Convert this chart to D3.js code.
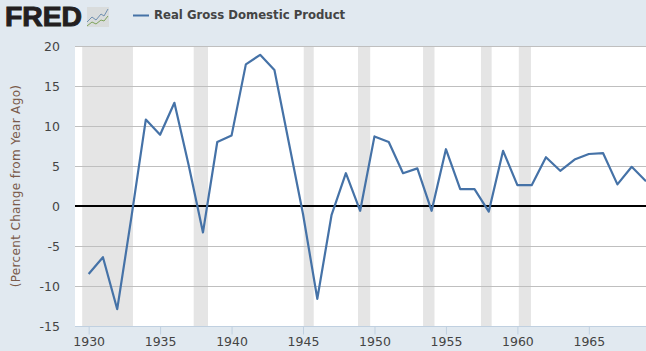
<!DOCTYPE html>
<html>
<head>
<meta charset="utf-8">
<script src="https://cdn.jsdelivr.net/npm/d3@7"></script>
<style>
html, body { margin: 0; padding: 0; background: #e1e9f0; overflow: hidden; }
text { font-family: "DejaVu Sans", Verdana, sans-serif; }
</style>
</head>
<body>
<svg id="chart" width="646" height="351"></svg>
<script>
const years = d3.range(1930, 1970);
const gdpChange = [-8.5, -6.4, -12.9, -1.3, 10.8, 8.9, 12.9, 5.1, -3.3, 8.0,
    8.8, 17.7, 18.9, 17.0, 8.0, -1.0, -11.6, -1.1, 4.1, -0.6,
    8.7, 8.0, 4.1, 4.7, -0.6, 7.1, 2.1, 2.1, -0.7, 6.9,
    2.6, 2.6, 6.1, 4.4, 5.8, 6.5, 6.6, 2.7, 4.9, 3.1];
const recessionStart = [1929.55, 1937.35, 1945.05, 1948.85, 1953.4, 1957.45, 1960.1];
const recessionEnd = [1933.1, 1938.35, 1945.75, 1949.7, 1954.2, 1958.2, 1960.95];
const yTicks = [-15, -10, -5, 0, 5, 10, 15, 20];
const xTicks = [1930, 1935, 1940, 1945, 1950, 1955, 1960, 1965];

const svg = d3.select("#chart");
const plot = { left: 75, right: 646, top: 46, bottom: 326 };

const x = d3.scaleLinear().domain([1929.08, 1969]).range([plot.left + 0.5, plot.right]);
const y = d3.scaleLinear().domain([-15, 20]).range([plot.bottom, plot.top]);

// plot background
svg.append("rect")
    .attr("x", plot.left).attr("y", plot.top)
    .attr("width", plot.right - plot.left).attr("height", plot.bottom - plot.top)
    .attr("fill", "#fff");

// recession bands
svg.selectAll("rect.recession")
    .data(recessionStart)
    .enter()
    .append("rect")
    .attr("class", "recession")
    .attr("x", d => x(d))
    .attr("y", plot.top)
    .attr("width", (d, i) => x(recessionEnd[i]) - x(d))
    .attr("height", plot.bottom - plot.top)
    .attr("fill", "#e5e5e5");

// grid
svg.selectAll("line.grid")
    .data(yTicks.filter(d => d !== -15 && d !== 0))
    .enter()
    .append("line")
    .attr("class", "grid")
    .attr("x1", plot.left).attr("x2", plot.right)
    .attr("y1", d => Math.round(y(d)) + 0.5)
    .attr("y2", d => Math.round(y(d)) + 0.5)
    .attr("stroke", "#bfbfbf")
    .attr("stroke-width", 1);

// zero line
svg.append("line")
    .attr("x1", plot.left).attr("x2", plot.right)
    .attr("y1", y(0)).attr("y2", y(0))
    .attr("stroke", "#000")
    .attr("stroke-width", 2);

// x axis
const xAxis = svg.append("g")
    .attr("transform", `translate(0,${plot.bottom + 0.5})`)
    .call(d3.axisBottom(x).tickValues(xTicks).tickFormat(d3.format("d")).tickSize(8).tickSizeOuter(0));
xAxis.select(".domain").attr("stroke", "#c0d0e0").attr("d", `M${plot.left},0H${plot.right}`);
xAxis.selectAll(".tick line").attr("stroke", "#c0d0e0");
xAxis.selectAll(".tick text")
    .attr("y", 11)
    .attr("fill", "#444")
    .style("font-size", "12.5px");

// y axis labels
svg.selectAll("text.ylab")
    .data(yTicks)
    .enter()
    .append("text")
    .attr("class", "ylab")
    .attr("x", 60)
    .attr("y", d => y(d) + 5)
    .attr("text-anchor", "end")
    .attr("fill", "#444")
    .style("font-size", "12.5px")
    .text(d => d);

svg.append("text")
    .attr("transform", `translate(19.5,186) rotate(-90)`)
    .attr("text-anchor", "middle")
    .attr("fill", "#7a5a4a")
    .style("font-size", "12px")
    .style("letter-spacing", "0.35px")
    .text("(Percent Change from Year Ago)");

// series
const line = d3.line().x((d, i) => x(years[i])).y(d => y(d));
svg.append("path")
    .datum(gdpChange)
    .attr("d", line)
    .attr("fill", "none")
    .attr("stroke", "#4572a7")
    .attr("stroke-width", 2.2)
    .attr("stroke-linejoin", "round");

// legend
svg.append("line")
    .attr("x1", 133).attr("x2", 149)
    .attr("y1", 15.5).attr("y2", 15.5)
    .attr("stroke", "#4572a7")
    .attr("stroke-width", 2);
svg.append("text")
    .attr("x", 154).attr("y", 19)
    .attr("fill", "#444")
    .style("font-size", "11.7px")
    .style("font-weight", "bold")
    .text("Real Gross Domestic Product");

// FRED logo
svg.append("text")
    .attr("x", 5).attr("y", 26)
    .attr("fill", "#231f20")
    .attr("stroke", "#231f20")
    .attr("stroke-width", 1)
    .attr("textLength", 77)
    .attr("lengthAdjust", "spacingAndGlyphs")
    .style("font-family", "'Liberation Sans', Arial, sans-serif")
    .style("font-size", "27px")
    .style("font-weight", "bold")
    .text("FRED");

const icon = svg.append("g").attr("transform", "translate(87,7)");
icon.append("rect").attr("width", 22).attr("height", 20).attr("fill", "#d9dcdc");
icon.append("path").attr("d", "M0,15L5,10L9,13L14,7L17,9L21,2")
    .attr("fill", "none").attr("stroke", "#6f8fb0").attr("stroke-width", 1);
icon.append("path").attr("d", "M0,19L5,15L9,17L14,13L17,14L21,9")
    .attr("fill", "none").attr("stroke", "#7ea35a").attr("stroke-width", 1);
</script>
</body>
</html>
